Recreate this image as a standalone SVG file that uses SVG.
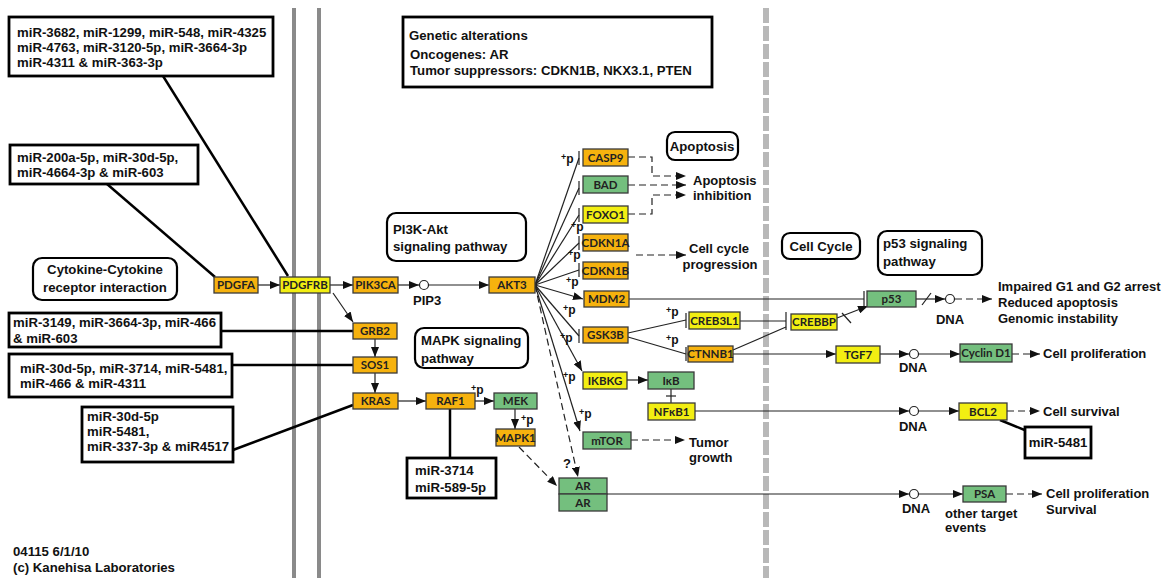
<svg xmlns="http://www.w3.org/2000/svg" width="1169" height="579" viewBox="0 0 1169 579">
<defs>
<style>
.o{fill:#F6B20E}.y{fill:#F2EE12}.g{fill:#74BF7E}
.node rect{stroke:#3a3a3a;stroke-width:1.3}
.node text{font-family:Lato,"Liberation Sans",sans-serif;font-weight:bold;font-size:11.5px;fill:#222;text-anchor:middle}
.t{font-family:"Liberation Sans",Arial,sans-serif;font-weight:bold;font-size:13px;fill:#111}
.m{font-family:"Liberation Sans",Arial,sans-serif;font-weight:bold;font-size:13.2px;fill:#111}
.mir rect{fill:#fff;stroke:#000;stroke-width:2.8}
.pw rect{fill:#fff;stroke:#000;stroke-width:2.2}
.c{stroke:#222;stroke-width:1.2;fill:none}
.d{stroke-dasharray:7 4}
.th{stroke:#000;stroke-width:2.5;fill:none}
.dna{fill:#fff;stroke:#222;stroke-width:1.2}
.p{font-family:"Liberation Sans",Arial,sans-serif;font-weight:bold;font-size:12px;fill:#111}
.p .s{font-size:9px}
</style>
<marker id="ar" viewBox="0 0 10 8" refX="10" refY="4" markerWidth="10" markerHeight="8" markerUnits="userSpaceOnUse" orient="auto"><path d="M0,0 L10,4 L0,8 z" fill="#111"/></marker>
</defs>
<rect width="1169" height="579" fill="#fff"/>
<g id="membranes">
<line x1="294" y1="8" x2="294" y2="578" stroke="#8a8a8a" stroke-width="4"/>
<line x1="319" y1="8" x2="319" y2="578" stroke="#8a8a8a" stroke-width="4"/>
<line x1="766" y1="8" x2="766" y2="578" stroke="#b8b8b8" stroke-width="6" stroke-dasharray="15 3"/>
</g>
<g id="connectors">
<line class="th" x1="163" y1="76" x2="288" y2="276" stroke-width="2"/>
<line class="th" x1="107" y1="184" x2="215" y2="277" stroke-width="2"/>
<line class="th" x1="221" y1="331" x2="353" y2="331" stroke-width="2"/>
<line class="th" x1="232" y1="365" x2="353" y2="365" stroke-width="2"/>
<line class="th" x1="233" y1="450" x2="353" y2="405" stroke-width="2"/>
<line class="th" x1="450" y1="409" x2="450" y2="458" stroke-width="3"/>
<line class="th" x1="1000" y1="420" x2="1027" y2="431" stroke-width="2.5"/>
<line class="c" x1="258" y1="285" x2="280" y2="285" marker-end="url(#ar)"/>
<line class="c" x1="330" y1="285" x2="353" y2="285" marker-end="url(#ar)"/>
<line class="c" x1="398" y1="285" x2="419" y2="285" marker-end="url(#ar)"/>
<line class="c" x1="428" y1="285" x2="489" y2="285" marker-end="url(#ar)"/>
<line class="c" x1="333" y1="293" x2="353" y2="322" marker-end="url(#ar)"/>
<line class="c" x1="375" y1="339" x2="375" y2="357" marker-end="url(#ar)"/>
<line class="c" x1="375" y1="373" x2="375" y2="393" marker-end="url(#ar)"/>
<line class="c" x1="398" y1="401" x2="426" y2="401" marker-end="url(#ar)"/>
<line class="c" x1="475" y1="401" x2="494" y2="401" marker-end="url(#ar)"/>
<line class="c" x1="515" y1="409" x2="515" y2="429" marker-end="url(#ar)"/>
<line class="c d" x1="519" y1="447" x2="557" y2="486" marker-end="url(#ar)"/>
<line class="c" x1="535" y1="285" x2="579" y2="158"/><line class="c" x1="579" y1="151" x2="579" y2="165"/>
<line class="c" x1="535" y1="285" x2="579" y2="188"/><line class="c" x1="579" y1="181" x2="579" y2="195"/>
<line class="c" x1="535" y1="285" x2="579" y2="215"/><line class="c" x1="579" y1="208" x2="579" y2="222"/>
<line class="c" x1="535" y1="285" x2="579" y2="243"/><line class="c" x1="579" y1="236" x2="579" y2="250"/>
<line class="c" x1="535" y1="285" x2="579" y2="270"/><line class="c" x1="579" y1="263" x2="579" y2="277"/>
<line class="c" x1="535" y1="285" x2="583" y2="299" marker-end="url(#ar)"/>
<line class="c" x1="535" y1="285" x2="579" y2="336"/><line class="c" x1="579" y1="329" x2="579" y2="343"/>
<line class="c" x1="535" y1="285" x2="582" y2="371" marker-end="url(#ar)"/>
<line class="c" x1="535" y1="285" x2="580" y2="431" marker-end="url(#ar)"/>
<line class="c d" x1="535" y1="285" x2="578" y2="477" marker-end="url(#ar)"/>
<path class="c d" d="M628,157 H652 V176 H686" marker-end="url(#ar)"/>
<path class="c d" d="M628,185 H686" marker-end="url(#ar)"/>
<path class="c d" d="M628,214 H652 V195 H686" marker-end="url(#ar)"/>
<path class="c d" d="M636,255 H686" marker-end="url(#ar)"/>
<path class="c d" d="M631,440 H685" marker-end="url(#ar)"/>
<line class="c" x1="629" y1="299" x2="864" y2="299"/><line class="c" x1="864" y1="291" x2="864" y2="307"/>
<line class="c" x1="628" y1="333" x2="686" y2="320"/><line class="c" x1="686" y1="313" x2="686" y2="328"/>
<line class="c" x1="628" y1="337" x2="686" y2="354"/><line class="c" x1="686" y1="347" x2="686" y2="361"/>
<line class="c" x1="740" y1="321" x2="786" y2="321"/><line class="c" x1="786" y1="312" x2="786" y2="330"/>
<line class="c" x1="733" y1="350" x2="786" y2="327"/>
<line class="c" x1="837" y1="318" x2="868" y2="306" marker-end="url(#ar)"/>
<line class="c" x1="842" y1="313" x2="851" y2="323"/>
<line class="c" x1="733" y1="354" x2="836" y2="354" marker-end="url(#ar)"/>
<line class="c" x1="916" y1="299" x2="945" y2="299" marker-end="url(#ar)"/>
<line class="c" x1="922" y1="305" x2="931" y2="293"/>
<line class="c d" x1="955" y1="299" x2="992" y2="299" marker-end="url(#ar)"/>
<line class="c" x1="880" y1="354" x2="909" y2="354" marker-end="url(#ar)"/>
<line class="c" x1="919" y1="354" x2="960" y2="354" marker-end="url(#ar)"/>
<line class="c d" x1="1012" y1="354" x2="1040" y2="354" marker-end="url(#ar)"/>
<line class="c" x1="627" y1="380" x2="648" y2="380" marker-end="url(#ar)"/>
<line class="c" x1="671" y1="389" x2="671" y2="403"/><line class="c" x1="666" y1="396" x2="676" y2="396"/>
<line class="c" x1="695" y1="411" x2="909" y2="411" marker-end="url(#ar)"/>
<line class="c" x1="919" y1="411" x2="959" y2="411" marker-end="url(#ar)"/>
<line class="c d" x1="1007" y1="411" x2="1040" y2="411" marker-end="url(#ar)"/>
<line class="c" x1="607" y1="494" x2="909" y2="494" marker-end="url(#ar)"/>
<line class="c" x1="919" y1="494" x2="963" y2="494" marker-end="url(#ar)"/>
<line class="c d" x1="1006" y1="494" x2="1042" y2="494" marker-end="url(#ar)"/>
<circle class="dna" cx="424" cy="285" r="4.5"/>
<circle class="dna" cx="950" cy="299" r="4.5"/>
<circle class="dna" cx="914" cy="354" r="4.5"/>
<circle class="dna" cx="914" cy="411" r="4.5"/>
<circle class="dna" cx="914" cy="494" r="4.5"/>
</g>
<g id="labels">
<text class="p" x="561" y="163"><tspan class="s" dy="-3">+</tspan><tspan dy="3">p</tspan></text>
<text class="p" x="571" y="231"><tspan class="s" dy="-3">+</tspan><tspan dy="3">p</tspan></text>
<text class="p" x="568" y="259"><tspan class="s" dy="-3">+</tspan><tspan dy="3">p</tspan></text>
<text class="p" x="566" y="286"><tspan class="s" dy="-3">+</tspan><tspan dy="3">p</tspan></text>
<text class="p" x="563" y="314"><tspan class="s" dy="-3">+</tspan><tspan dy="3">p</tspan></text>
<text class="p" x="560" y="342"><tspan class="s" dy="-3">+</tspan><tspan dy="3">p</tspan></text>
<text class="p" x="563" y="381"><tspan class="s" dy="-3">+</tspan><tspan dy="3">p</tspan></text>
<text class="p" x="579" y="418"><tspan class="s" dy="-3">+</tspan><tspan dy="3">p</tspan></text>
<text class="p" x="666" y="316"><tspan class="s" dy="-3">+</tspan><tspan dy="3">p</tspan></text>
<text class="p" x="666" y="344"><tspan class="s" dy="-3">+</tspan><tspan dy="3">p</tspan></text>
<text class="p" x="471" y="394"><tspan class="s" dy="-3">+</tspan><tspan dy="3">p</tspan></text>
<text class="p" x="521" y="424"><tspan class="s" dy="-3">+</tspan><tspan dy="3">p</tspan></text>
<text class="t" x="563" y="468">?</text>
<text class="t" x="413" y="305">PIP3</text>
<text class="t" x="693" y="185">Apoptosis</text>
<text class="t" x="693" y="200">inhibition</text>
<text class="t" x="719" y="253" text-anchor="middle">Cell cycle</text>
<text class="t" x="720" y="269" text-anchor="middle">progression</text>
<text class="t" x="689" y="447">Tumor</text>
<text class="t" x="689" y="462">growth</text>
<text class="t" x="998" y="291">Impaired G1 and G2 arrest</text>
<text class="t" x="998" y="307">Reduced apoptosis</text>
<text class="t" x="998" y="323">Genomic instability</text>
<text class="t" x="950" y="324" text-anchor="middle">DNA</text>
<text class="t" x="913" y="372" text-anchor="middle">DNA</text>
<text class="t" x="913" y="431" text-anchor="middle">DNA</text>
<text class="t" x="916" y="513" text-anchor="middle">DNA</text>
<text class="t" x="1043" y="358">Cell proliferation</text>
<text class="t" x="1043" y="416">Cell survival</text>
<text class="t" x="1046" y="498">Cell proliferation</text>
<text class="t" x="1046" y="514">Survival</text>
<text class="t" x="945" y="518">other target</text>
<text class="t" x="945" y="532">events</text>
<text class="m" x="13" y="556" font-size="12.3">04115 6/1/10</text>
<text class="m" x="13" y="572" font-size="12.3">(c) Kanehisa Laboratories</text>
</g>
<g id="genetic-alterations">
<rect x="403" y="17" width="309" height="70" fill="#fff" stroke="#000" stroke-width="2.8"/>
<text class="m" x="409" y="40" font-size="16.2">Genetic alterations</text>
<text class="m" x="410" y="59">Oncogenes: AR</text>
<text class="m" x="410" y="75">Tumor suppressors: CDKN1B, NKX3.1, PTEN</text>
</g>
<g id="mir-box-1" class="mir"><rect x="9" y="17" width="264" height="59"/>
<text class="m" x="17" y="37">miR-3682, miR-1299, miR-548, miR-4325</text>
<text class="m" x="17" y="52">miR-4763, miR-3120-5p, miR-3664-3p</text>
<text class="m" x="17" y="67">miR-4311 &amp; miR-363-3p</text></g>
<g id="mir-box-2" class="mir"><rect x="10" y="145" width="188" height="39"/>
<text class="m" x="17" y="162">miR-200a-5p, miR-30d-5p,</text>
<text class="m" x="17" y="177">miR-4664-3p &amp; miR-603</text></g>
<g id="mir-box-3" class="mir"><rect x="9" y="313" width="212" height="34"/>
<text class="m" x="13" y="327">miR-3149, miR-3664-3p, miR-466</text>
<text class="m" x="13" y="343">&amp; miR-603</text></g>
<g id="mir-box-4" class="mir"><rect x="9" y="354" width="223" height="43"/>
<text class="m" x="20" y="373">miR-30d-5p, miR-3714, miR-5481,</text>
<text class="m" x="20" y="388">miR-466 &amp; miR-4311</text></g>
<g id="mir-box-5" class="mir"><rect x="82" y="407" width="151" height="55"/>
<text class="m" x="87" y="421">miR-30d-5p</text>
<text class="m" x="87" y="436">miR-5481,</text>
<text class="m" x="87" y="451">miR-337-3p &amp; miR4517</text></g>
<g id="mir-box-6" class="mir"><rect x="407" y="458" width="89" height="40"/>
<text class="m" x="415" y="475" font-size="13.4">miR-3714</text>
<text class="m" x="415" y="492" font-size="13.4">miR-589-5p</text></g>
<g id="mir-box-7" class="mir"><rect x="1025" y="427" width="66" height="31"/>
<text class="m" x="1058" y="447" text-anchor="middle">miR-5481</text></g>
<g id="pw-cytokine" class="pw"><rect x="33" y="258" width="144" height="42" rx="9"/>
<text class="m" x="105" y="274" text-anchor="middle" font-size="13.6">Cytokine-Cytokine</text>
<text class="m" x="105" y="292" text-anchor="middle" font-size="13.6">receptor interaction</text></g>
<g id="pw-pi3k" class="pw"><rect x="387" y="213" width="139" height="48" rx="9"/>
<text class="m" x="393" y="234" font-size="15">PI3K-Akt</text>
<text class="m" x="393" y="251" font-size="15">signaling pathway</text></g>
<g id="pw-mapk" class="pw"><rect x="415" y="328" width="113" height="40" rx="9"/>
<text class="m" x="421" y="345" font-size="13.4">MAPK signaling</text>
<text class="m" x="421" y="363" font-size="13.4">pathway</text></g>
<g id="pw-apoptosis" class="pw"><rect x="667" y="132" width="71" height="28" rx="8"/>
<text class="m" x="702" y="151" text-anchor="middle" font-size="13">Apoptosis</text></g>
<g id="pw-cellcycle" class="pw"><rect x="782" y="233" width="78" height="26" rx="8"/>
<text class="m" x="821" y="251" text-anchor="middle" font-size="14.6">Cell Cycle</text></g>
<g id="pw-p53" class="pw"><rect x="878" y="231" width="104" height="44" rx="9"/>
<text class="m" x="883" y="248" font-size="14.9">p53 signaling</text>
<text class="m" x="883" y="266" font-size="14.9">pathway</text></g>
<g id="PDGFA" class="node"><rect class="o" x="214" y="277" width="44" height="16"/><text x="236" y="289">PDGFA</text></g>
<g id="PDGFRB" class="node"><rect class="y" x="280" y="277" width="50" height="16"/><text x="305" y="289">PDGFRB</text></g>
<g id="PIK3CA" class="node"><rect class="o" x="353" y="277" width="45" height="16"/><text x="375.5" y="289">PIK3CA</text></g>
<g id="AKT3" class="node"><rect class="o" x="489" y="277" width="46" height="16"/><text x="512" y="289">AKT3</text></g>
<g id="GRB2" class="node"><rect class="o" x="353" y="323" width="44" height="16"/><text x="375" y="335">GRB2</text></g>
<g id="SOS1" class="node"><rect class="o" x="353" y="357" width="44" height="16"/><text x="375" y="369">SOS1</text></g>
<g id="KRAS" class="node"><rect class="o" x="353" y="393" width="45" height="16"/><text x="375.5" y="405">KRAS</text></g>
<g id="RAF1" class="node"><rect class="o" x="426" y="393" width="49" height="16"/><text x="450.5" y="405">RAF1</text></g>
<g id="MEK" class="node"><rect class="g" x="494" y="393" width="43" height="16"/><text x="515.5" y="405">MEK</text></g>
<g id="MAPK1" class="node"><rect class="o" x="496" y="429" width="39" height="17"/><text x="515.5" y="441.5">MAPK1</text></g>
<g id="AR1" class="node"><rect class="g" x="559" y="478" width="48" height="16"/><text x="583" y="490">AR</text></g>
<g id="AR2" class="node"><rect class="g" x="559" y="494" width="48" height="17"/><text x="583" y="506.5">AR</text></g>
<g id="CASP9" class="node"><rect class="o" x="583" y="149" width="45" height="17"/><text x="605.5" y="161.5">CASP9</text></g>
<g id="BAD" class="node"><rect class="g" x="583" y="176" width="45" height="17"/><text x="605.5" y="188.5">BAD</text></g>
<g id="FOXO1" class="node"><rect class="y" x="583" y="206" width="45" height="17"/><text x="605.5" y="218.5">FOXO1</text></g>
<g id="CDKN1A" class="node"><rect class="o" x="583" y="234" width="45" height="17"/><text x="605.5" y="246.5">CDKN1A</text></g>
<g id="CDKN1B" class="node"><rect class="o" x="583" y="262" width="45" height="17"/><text x="605.5" y="274.5">CDKN1B</text></g>
<g id="MDM2" class="node"><rect class="o" x="584" y="291" width="45" height="16"/><text x="606.5" y="303">MDM2</text></g>
<g id="GSK3B" class="node"><rect class="o" x="583" y="327" width="45" height="16"/><text x="605.5" y="339">GSK3B</text></g>
<g id="IKBKG" class="node"><rect class="y" x="583" y="372" width="44" height="17"/><text x="605" y="384.5">IKBKG</text></g>
<g id="IkB" class="node"><rect class="g" x="648" y="372" width="46" height="17"/><text x="671" y="384.5">IκB</text></g>
<g id="NFkB1" class="node"><rect class="y" x="648" y="403" width="47" height="17"/><text x="671.5" y="415.5">NFκB1</text></g>
<g id="mTOR" class="node"><rect class="g" x="583" y="432" width="48" height="17"/><text x="607" y="444.5">mTOR</text></g>
<g id="CREB3L1" class="node"><rect class="y" x="689" y="312" width="51" height="17"/><text x="714.5" y="324.5">CREB3L1</text></g>
<g id="CTNNB1" class="node"><rect class="o" x="688" y="346" width="45" height="16"/><text x="710.5" y="358">CTNNB1</text></g>
<g id="CREBBP" class="node"><rect class="y" x="791" y="314" width="46" height="16"/><text x="814" y="326">CREBBP</text></g>
<g id="p53" class="node"><rect class="g" x="867" y="291" width="49" height="16"/><text x="891.5" y="303">p53</text></g>
<g id="TGF7" class="node"><rect class="y" x="836" y="346" width="44" height="17"/><text x="858" y="358.5">TGF7</text></g>
<g id="CyclinD1" class="node"><rect class="g" x="960" y="344" width="52" height="18"/><text x="986" y="357" font-size="10.5">Cyclin D1</text></g>
<g id="BCL2" class="node"><rect class="y" x="959" y="403" width="48" height="17"/><text x="983" y="415.5">BCL2</text></g>
<g id="PSA" class="node"><rect class="g" x="963" y="486" width="43" height="16"/><text x="984.5" y="498">PSA</text></g>
</svg>
